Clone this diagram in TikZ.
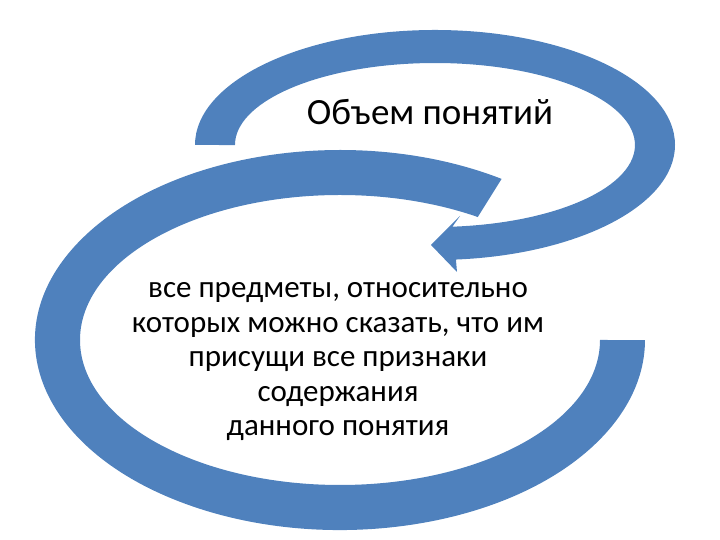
\documentclass[tikz,border=0pt]{standalone}
\usepackage{fontspec}
\setmainfont{Carlito}
\definecolor{band}{HTML}{4F81BD}
\begin{document}
\begin{tikzpicture}[x=1pt,y=1pt,bandfill/.style={fill=band,draw=none}]
\useasboundingbox (0,0) rectangle (720,540);
% big lower band
\path[bandfill] (501.6,361.1) arc[start angle=58,end angle=360,x radius=305,y radius=190]
  -- (600,200) arc[start angle=360,end angle=58,x radius=260,y radius=145] -- cycle;
% upper arrow
\path[bandfill] (195,395) arc[start angle=180,end angle=-85,x radius=240,y radius=115]
  -- (457,268) -- (431,295) -- (460,324)
  -- (452.4,313.3) arc[start angle=-85,end angle=180,x radius=200,y radius=82] -- cycle;
\node[font=\fontsize{37}{40}\selectfont] (title) at (430,428) {Объем понятий};
\node[font=\fontsize{31}{34.5}\selectfont,align=center] (body) at (338,178)
  {все предметы, относительно\\которых можно сказать, что им\\присущи все признаки\\содержания\\данного понятия};
\end{tikzpicture}
\end{document}
